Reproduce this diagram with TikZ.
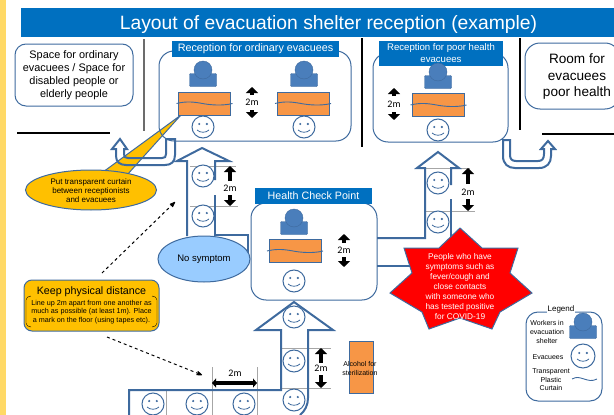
\documentclass[tikz,border=0pt]{standalone}
\usepackage{fontspec}
\setmainfont{Liberation Sans}
\newfontfamily\calibri{Carlito}
\usetikzlibrary{arrows.meta, shapes.geometric}

\definecolor{stripyellow}{HTML}{FFD966}
\definecolor{titleblue}{HTML}{0070C0}
\definecolor{lineblue}{HTML}{3E6A9E}
\definecolor{personblue}{HTML}{4A7EBB}
\definecolor{deskorange}{HTML}{F79646}
\definecolor{noteyellow}{HTML}{FFC000}
\definecolor{skyblue}{HTML}{99CCFF}

\tikzset{
  roombox/.style={draw=lineblue, line width=1pt, rounded corners=15pt},
  titlelabel/.style={fill=titleblue, text=white, inner sep=0pt, align=center},
  route/.style={draw=lineblue, line width=2pt, line join=miter},
  divider/.style={line width=1.3pt},
  floorline/.style={draw=gray!70, line width=1pt},
  blockarrow/.style={-{Triangle[length=6pt,width=12pt]}, line width=4pt},
  smalltext/.style={inner sep=0pt, align=center, font=\fontsize{7}{8.6}\selectfont},
  facering/.style={circle, draw=lineblue, line width=1pt, fill=white, inner sep=0pt},
  desk/.style={draw=lineblue, line width=1pt, fill=deskorange, minimum width=52pt, minimum height=23pt, inner sep=0pt},
  curtain/.style={draw=lineblue, line width=0.9pt}
}

% Evacuee: name, x, y
\newcommand{\evacuee}[4][22pt]{
  \node[facering, minimum size=#1] (#2) at (#3, #4) {};
  \fill[lineblue] ([shift={(-3.8pt,3pt)}]#2.center) circle (1.2pt);
  \fill[lineblue] ([shift={(3.8pt,3pt)}]#2.center) circle (1.2pt);
  \draw[lineblue, line width=0.8pt] ([shift={(-6pt,-3pt)}]#2.center) .. controls +(3pt,-3pt) and +(-3pt,-3pt) .. +(12pt,0pt);
}
% Worker: name, x, y of the head
\newcommand{\worker}[3]{
  \node[draw=lineblue, fill=personblue, rounded corners=1pt, minimum width=27pt, minimum height=13pt, inner sep=0pt] (#1 body) at (#2, #3+10) {};
  \node[circle, draw=lineblue, fill=personblue, minimum size=18pt, inner sep=0pt] (#1) at (#2, #3) {};
}
% Curtain wave through a desk
\newcommand{\wave}[1]{
  \draw[curtain] ([xshift=-28pt]#1.center) .. controls +(10pt,2.5pt) and +(-8pt,1.5pt) .. ++(26pt,0pt) .. controls +(8pt,-1.5pt) and +(-10pt,-2.5pt) .. ++(30pt,0pt);
}
% Distance mark: name, x, arrow tip, arrow base, label y, arrow base, arrow tip
\newcommand{\distmark}[7]{
  \coordinate (#1 a) at (#2, #4);
  \coordinate (#1 b) at (#2, #3);
  \coordinate (#1 c) at (#2, #6);
  \coordinate (#1 d) at (#2, #7);
  \node[inner sep=0pt, font=\calibri\fontsize{10}{10}\selectfont] (#1) at (#2, #5) {2m};
  \draw[blockarrow] (#1 a) -- (#1 b);
  \draw[blockarrow] (#1 c) -- (#1 d);
}

\begin{document}
\begin{tikzpicture}[x=1pt, y=-1pt, >={Stealth[round]}]
    \useasboundingbox (0,0) rectangle (614,415);
    \clip (0,0) rectangle (614,415);

    % Define page strip and title
    \fill[stripyellow] (0,0) rectangle (6,415);
    \node[titlelabel, minimum width=593pt, minimum height=29pt] (title bar) at (317.5, 22.5) {};
    \node[text=white, inner sep=0pt, font=\fontsize{19.3}{20}\selectfont] (title) at (328.5, 25) {Layout of evacuation shelter reception (example)};

    % Draw callout wedge
    \draw[draw=lineblue, fill=noteyellow, line width=1pt] (103,172) -- (181,115) -- (127,175) -- cycle;

    % Define rooms
    \node[draw=lineblue, line width=1pt, rounded corners=11pt, minimum width=118pt, minimum height=62pt, inner sep=0pt, align=center, font=\fontsize{10.9}{13}\selectfont] (space box) at (74, 75) {Space for ordinary\\evacuees / Space for\\disabled people or\\elderly people};
    \node[roombox, minimum width=192pt, minimum height=90pt] (ordinary box) at (255, 96) {};
    \node[roombox, minimum width=135pt, minimum height=89pt] (poor box) at (440.5, 97.5) {};
    \node[roombox, minimum width=95pt, minimum height=66pt] (room box) at (572.5, 76) {};
    \node[inner sep=0pt, align=center, font=\fontsize{13.6}{16.4}\selectfont] (room text) at (577, 76.5) {Room for\\evacuees\\poor health};
    \node[roombox, fill=white, minimum width=126pt, minimum height=97pt] (health box) at (314, 251.5) {};

    % Draw walls
    \draw[divider, draw=gray!85!black] (144,39) -- (144,131);
    \draw[divider] (362,38) -- (362,147);
    \draw[divider] (520,38) -- (520,130);
    \draw[black, line width=2pt] (17,133) -- (110,133);
    \draw[black, line width=2pt] (542,134) -- (614,134);

    % Define room labels
    \node[titlelabel, minimum width=167pt, minimum height=16pt, font=\fontsize{10.8}{12}\selectfont] (ordinary label) at (255.5, 49) {Reception for ordinary evacuees};
    \node[titlelabel, minimum width=124pt, minimum height=25pt, font=\fontsize{9.6}{11.5}\selectfont] (poor label) at (441, 53) {Reception for poor health\\evacuees};
    \node[titlelabel, minimum width=117pt, minimum height=16pt, font=\fontsize{10.7}{12}\selectfont] (health label) at (313.5, 196) {Health Check Point};

    % Draw floor lines
    \draw[floorline] (190,166) -- (236,166);
    \draw[floorline] (190,206) -- (238,206);
    \draw[floorline] (424,168) -- (470,168);
    \draw[floorline] (424,211) -- (475,211);
    \draw[floorline] (281,348) -- (331,348);
    \draw[floorline] (281,388) -- (331,388);
    \draw[floorline] (166,390) -- (166,415);
    \draw[floorline] (212,367) -- (212,415);
    \draw[floorline] (257,367) -- (257,415);

    % Draw routes
    \draw[route] (175,139) -- (175,155) .. controls (175,162) and (171,165) .. (165,165) -- (126,165) .. controls (120,165) and (116,162) .. (116,156) -- (116,149) -- (112,149) -- (120,139) -- (127,149) -- (124,149) -- (124,154) .. controls (124,157) and (125,158) .. (128,158) -- (162,158) .. controls (165,158) and (166,157) .. (166,154) -- (166,139) -- cycle;
    \draw[route] (503,140) -- (503,156) .. controls (503,164) and (508,168) .. (515,168) -- (539,168) .. controls (547,168) and (551,163) .. (551,156) -- (551,149) -- (555,149) -- (548,141) -- (541,149) -- (544,149) -- (544,154) .. controls (544,159) and (542,161) .. (538,161) -- (516,161) .. controls (512,161) and (510,159) .. (510,155) -- (510,140) -- cycle;
    \draw[route] (187,236) -- (187,161) -- (177,161) -- (202,148) -- (229,161) -- (215,161) -- (215,180);
    \draw[route] (215,195) -- (215,235) -- (248,235) -- (248,256);
    \draw[route] (377,238) -- (425,238) -- (425,168) -- (417,168) -- (438,152) -- (459,168) -- (451,168) -- (451,185);
    \draw[route] (451,199) -- (451,240);
    \draw[route] (377,266) -- (410,266);
    \draw[route] (129,415) -- (129,390) -- (281,390) -- (281,330) -- (256,330) -- (294,302) -- (333,330) -- (308,330) -- (308,398) .. controls (308,405) and (305,411) .. (300,415);

    % Define people
    \worker{ordinary worker a}{203}{70}
    \worker{ordinary worker b}{304}{70}
    \worker{poor worker}{438}{72}
    \worker{health worker}{294}{218}
    \worker{legend worker}{583}{322}

    % Define desks
    \node[desk] (ordinary desk a) at (204.5, 103.5) {};
    \node[desk] (ordinary desk b) at (303, 103.5) {};
    \node[desk] (poor desk) at (438.5, 105) {};
    \node[desk] (health desk) at (295, 251) {};
    \wave{ordinary desk a}
    \wave{ordinary desk b}
    \wave{poor desk}
    \wave{health desk}

    % Define evacuees
    \evacuee{face a}{203}{127}
    \evacuee{face b}{304}{127}
    \evacuee{face c}{438}{130}
    \evacuee{face d}{203}{176}
    \evacuee{face e}{203}{216}
    \evacuee{face f}{294}{281}
    \evacuee{face g}{438}{183}
    \evacuee{face h}{438}{222}
    \evacuee{face i}{294}{317}
    \evacuee{face j}{294}{361}
    \evacuee{face k}{294}{400}
    \evacuee{face l}{153}{404}
    \evacuee{face m}{197}{404}
    \evacuee{face n}{244}{404}

    % Draw distance marks
    \distmark{mark a}{252}{87}{95}{102}{110}{118}
    \distmark{mark b}{394}{88}{96}{104}{112}{120}
    \distmark{mark c}{230}{166}{181}{188}{195}{206}
    \distmark{mark d}{344}{234}{243}{250}{257}{267}
    \distmark{mark e}{468}{168}{184}{192}{199}{211}
    \distmark{mark f}{321}{348}{363}{368}{375}{388}
    \node[inner sep=0pt, font=\calibri\fontsize{10}{10}\selectfont] (mark g) at (235, 373) {2m};
    \coordinate (mark g left) at (212, 383);
    \coordinate (mark g right) at (257, 383);
    \draw[{Triangle[length=4pt,width=9pt]}-{Triangle[length=4pt,width=9pt]}, line width=4pt] (mark g left) -- (mark g right);

    % Define notes
    \node[ellipse, draw=lineblue, line width=1pt, fill=noteyellow, minimum width=131pt, minimum height=40pt, inner sep=0pt] (curtain note) at (91, 190) {};
    \node[smalltext, font=\fontsize{8}{9.2}\selectfont] (curtain text) at (91, 190.5) {Put transparent curtain\\between receptionists\\and evacuees};
    \node[ellipse, draw=lineblue, line width=1pt, fill=skyblue, minimum width=92pt, minimum height=46pt, inner sep=0pt, font=\fontsize{9.5}{11}\selectfont] (no symptom) at (204, 259) {No symptom};
    \node[draw=lineblue, line width=1pt, fill=noteyellow, rounded corners=8pt, minimum width=135pt, minimum height=51pt, inner sep=0pt] (distance note) at (91.5, 305.5) {};
    \node[inner sep=0pt, font=\fontsize{10.7}{12}\selectfont] (distance title) at (91.5, 292) {Keep physical distance};
    \node[smalltext, font=\fontsize{7.2}{8.8}\selectfont] (distance text) at (91.5, 312) {Line up 2m apart from one another as\\much as possible (at least 1m). Place\\a mark on the floor (using tapes etc).};
    \draw[line width=0.4pt] (31,296) .. controls (28,296) and (26,298) .. (26,300) -- (26,323) .. controls (26,325) and (28,327) .. (31,327);
    \draw[line width=0.4pt] (152,296) .. controls (155,296) and (157,298) .. (157,300) -- (157,323) .. controls (157,325) and (155,327) .. (152,327);

    % Draw dashed pointers
    \coordinate (pointer a) at (102,273);
    \coordinate (pointer b) at (175,202);
    \coordinate (pointer c) at (107,337);
    \coordinate (pointer d) at (202,375);
    \draw[->, dashed, line width=1pt] (pointer a) -- (pointer b);
    \draw[->, dashed, line width=1pt] (pointer c) -- (pointer d);

    % Draw star
    \draw[draw=lineblue, line width=1pt, fill=red] (460,228) -- (482,248) -- (518,248) -- (510,273) -- (532,293) -- (500,312) -- (492,329) -- (460,318) -- (429,329) -- (422,312) -- (390,293) -- (412,273) -- (404,248) -- (439,248) -- cycle;
    \node[smalltext, text=white, font=\fontsize{8.3}{10}\selectfont] (star text) at (460, 287) {People who have\\symptoms such as\\fever/cough and\\close contacts\\with someone who\\has tested positive\\for COVID-19};

    % Define alcohol stand
    \node[draw=lineblue, line width=1pt, fill=deskorange, minimum width=24pt, minimum height=52pt, inner sep=0pt] (alcohol) at (361, 367) {};
    \node[smalltext] (alcohol text) at (360, 368.5) {Alcohol for\\sterilization};

    % Define legend
    \node[draw=lineblue, line width=1pt, rounded corners=12pt, minimum width=76pt, minimum height=89pt, inner sep=0pt] (legend box) at (564, 356.5) {};
    \node[fill=white, inner sep=1pt, font=\fontsize{8}{9}\selectfont] (legend title) at (561, 309.5) {Legend};
    \node[smalltext] (legend a) at (547, 332) {Workers in\\evacuation\\shelter};
    \node[smalltext] (legend b) at (548, 357) {Evacuees};
    \node[smalltext] (legend c) at (551, 380) {Transparent\\Plastic\\Curtain};
    \evacuee[24pt]{legend face}{583}{356}
    \coordinate (legend wave) at (572,379);
    \draw[curtain] (legend wave) .. controls +(5pt,2.5pt) and +(-5pt,1.5pt) .. ++(12pt,0pt) .. controls +(5pt,-1.5pt) and +(-5pt,-2.5pt) .. ++(13pt,0pt);
\end{tikzpicture}
\end{document}
